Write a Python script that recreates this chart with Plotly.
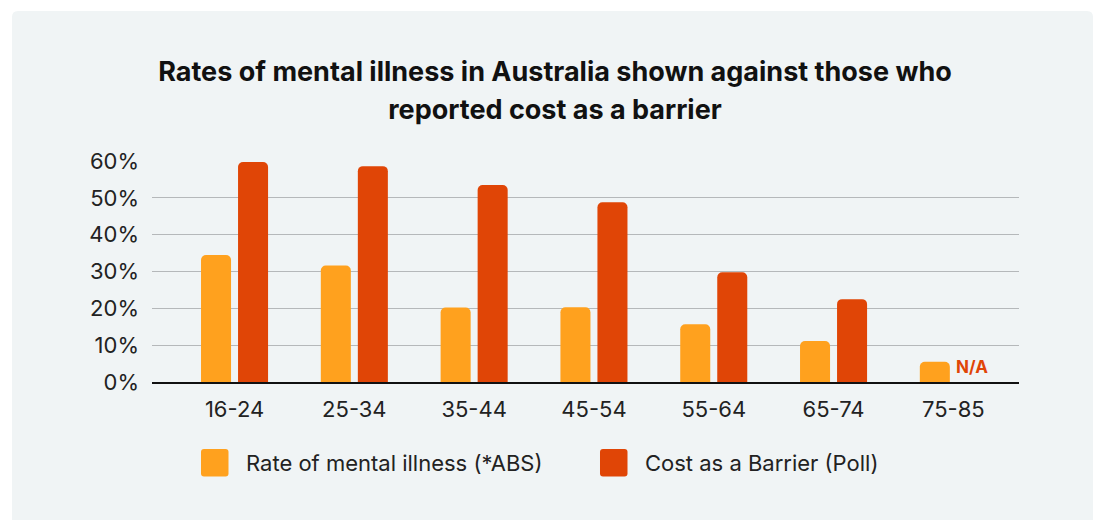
import plotly.graph_objects as go

# ---- data ----
age_groups = ["16-24", "25-34", "35-44", "45-54", "55-64", "65-74", "75-85"]
mental_illness_rate = [34.5, 31.6, 20.2, 20.3, 15.7, 11.1, 5.5]
cost_barrier = [59.7, 58.6, 53.5, 48.8, 29.8, 22.5, None]
series_names = ["Rate of mental illness (*ABS)", "Cost as a Barrier (Poll)"]
y_ticks = [0, 10, 20, 30, 40, 50, 60]
y_tick_labels = [f"{v}%" for v in y_ticks]
title_lines = ["Rates of mental illness in Australia shown against those who",
               "reported cost as a barrier"]

# ---- style ----
ORANGE = "#FFA11E"
RED = "#E04506"
PANEL = "#F0F4F5"
FONT = "Inter"
W, H = 1095, 520
ML, MR, MT, MB = 152, 76, 161, 138
PW, PH = W - ML - MR, H - MT - MB


def px_x(px):
    return (px - ML) / PW


def px_y(py):
    return (H - MB - py) / PH


def rounded_rect(x0, y0, x1, y1, r):
    pts = [
        ("M", [(x0 + r, y0)]),
        ("L", [(x1 - r, y0)]),
        ("Q", [(x1, y0), (x1, y0 + r)]),
        ("L", [(x1, y1 - r)]),
        ("Q", [(x1, y1), (x1 - r, y1)]),
        ("L", [(x0 + r, y1)]),
        ("Q", [(x0, y1), (x0, y1 - r)]),
        ("L", [(x0, y0 + r)]),
        ("Q", [(x0, y0), (x0 + r, y0)]),
    ]
    s = ""
    for cmd, ps in pts:
        s += cmd + " ".join(f"{px_x(a):.5f},{px_y(b):.5f}" for a, b in ps) + " "
    return s + "Z"


fig = go.Figure()
fig.add_bar(x=age_groups, y=mental_illness_rate, name=series_names[0],
            marker=dict(color=ORANGE, line=dict(width=0)), showlegend=False)
fig.add_bar(x=age_groups, y=cost_barrier, name=series_names[1],
            marker=dict(color=RED, line=dict(width=0)), showlegend=False)

shapes = [
    dict(type="path", xref="paper", yref="paper", layer="below",
         path=rounded_rect(12, 11, 1093, 530, 6),
         fillcolor=PANEL, line=dict(width=0)),
]
annotations = []

for cat, v in zip(age_groups, cost_barrier):
    if v is None:
        annotations.append(dict(x=cat, y=0, xref="x", yref="y", text="<b>N/A</b>",
                                showarrow=False, xanchor="center", yanchor="bottom",
                                xshift=19, yshift=3,
                                font=dict(family=FONT, size=17, color=RED)))

legend_items = [(series_names[0], ORANGE, 201), (series_names[1], RED, 600)]
for name, col, x0 in legend_items:
    shapes.append(dict(type="path", xref="paper", yref="paper", layer="above",
                       path=rounded_rect(x0, 449, x0 + 27.5, 476.5, 3),
                       fillcolor=col, line=dict(width=0)))
    annotations.append(dict(x=px_x(x0 + 43), y=px_y(463), xref="paper", yref="paper",
                            text=name, showarrow=False, xanchor="left", yanchor="middle",
                            font=dict(family=FONT, size=22, color="#222222")))

title_html = "<br>".join(f"<span style='font-size:27px'>{t}</span>" for t in title_lines)

fig.update_layout(
    width=W, height=H,
    margin=dict(l=ML, r=MR, t=MT, b=MB),
    paper_bgcolor="white",
    plot_bgcolor="rgba(0,0,0,0)",
    barmode="group",
    bargap=0.382,
    bargroupgap=0.189,
    barcornerradius=5,
    title=dict(text=title_html, x=555 / W, xanchor="center", xref="container",
               y=1 - 81 / H, yanchor="middle", yref="container",
               font=dict(family=FONT, size=29, color="#111111", weight="bold")),
    font=dict(family=FONT, size=22, color="#222222"),
    xaxis=dict(type="category", range=[-0.689, 6.548], showgrid=False,
               showline=True, linecolor="#111111", linewidth=1.5,
               ticks="", ticklabelstandoff=7,
               tickfont=dict(family=FONT, size=22, color="#222222")),
    yaxis=dict(range=[0, 60], tickmode="array", tickvals=y_ticks, ticktext=y_tick_labels,
               showgrid=True, gridcolor="#B5B8BA", gridwidth=1.2,
               zeroline=False, showline=False, ticks="", ticklabelstandoff=12,
               tickfont=dict(family=FONT, size=22, color="#222222")),
    shapes=shapes,
    annotations=annotations,
    showlegend=False,
)

fig.write_html("out.html", config={"displayModeBar": False},
               post_script="document.body.style.margin='0';")
